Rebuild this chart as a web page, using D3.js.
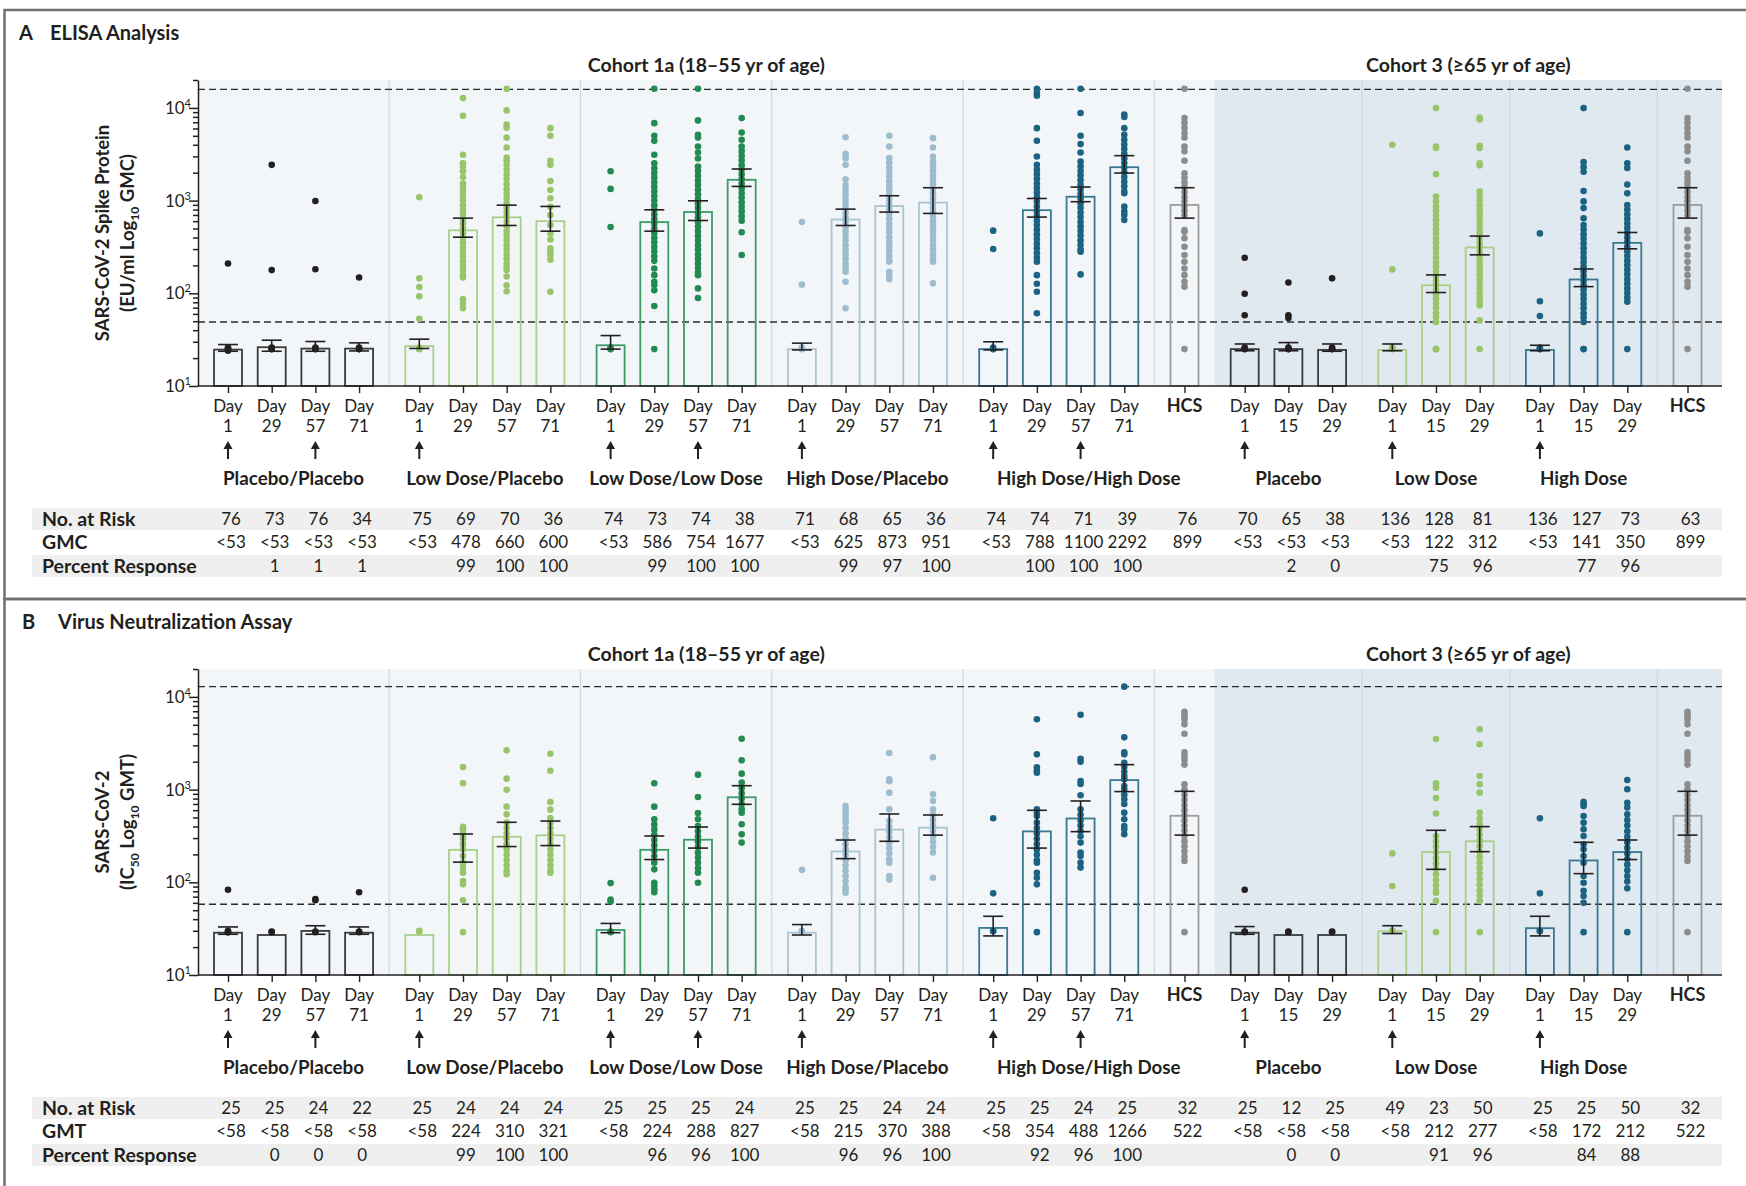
<!DOCTYPE html>
<html>
<head>
<meta charset="utf-8">
<script src="https://cdn.jsdelivr.net/npm/d3@7"></script>
<style>
  body { margin: 0; background: #fff; }
  svg { display: block; }
  text { font-family: Lato, "Open Sans", sans-serif; fill: #231f20; }
</style>
</head>
<body>
<svg id="fig" width="1746" height="1186"></svg>
<script>
// ---- categories ----
var slotDays = ["1","29","57","71","1","29","57","71","1","29","57","71","1","29","57","71","1","29","57","71","HCS",
                "1","15","29","1","15","29","1","15","29","HCS"];
var groupSizes = [4, 4, 4, 4, 4, 1, 3, 3, 3, 1];
var groupNames = ["Placebo/Placebo", "Low Dose/Placebo", "Low Dose/Low Dose", "High Dose/Placebo", "High Dose/High Dose", "",
                  "Placebo", "Low Dose", "High Dose", ""];
// last group each label is centred over (High Dose/High Dose sits over its bars and the HCS bar)
var groupLabelSpan = [0, 1, 2, 3, 5, 5, 6, 7, 8, 9];
var groupDot = ["#231f20", "#98c56a", "#238a52", "#9dbdcf", "#1c6383", "#8c8c8c", "#231f20", "#98c56a", "#1c6383", "#8c8c8c"];
var groupBar = ["#3a3a3a", "#a8d088", "#3c9a67", "#a9c5d4", "#3a7892", "#9c9c9c", "#3a3a3a", "#a8d088", "#3a7892", "#9c9c9c"];
var arrowSlots = [0, 2, 4, 8, 10, 12, 16, 18, 21, 24, 27];
var cohortNames = ["Cohort 1a (18\u201355 yr of age)", "Cohort 3 (\u226565 yr of age)"];

// ---- panel A: ELISA ----
var elisaGM = [24.7,26.2,25.3,25.3, 26.9,478,660,600, 27.5,586,754,1677, 25,625,873,951, 25,788,1100,2292, 899,
               25,25,24.5, 24.5,122,312, 24.5,141,350, 899];
var elisaCI = [[23.7,28],[23.7,31.2],[23.7,30.2],[23.9,29.2],[25.4,32],[403,647],[539,893],[468,865],[25,35],[468,796],
               [610,995],[1422,2192],[24.5,29],[539,809],[752,1128],[727,1377],[24.5,30],[664,1054],[973,1400],[1982,3054],
               [647,1377],[24,28.4],[24,29.4],[23.7,28.4],[24,28.4],[102,158],[260,414],[24,27.5],[118,183],[302,453],[647,1377]];
var elisaHCS = [16100,7760,6900,6100,5400,4800,3840,3400,2690,1970,1750,1560,1390,1240,1100,985,875,780,700,482,460,392,318,259,219,185,157,133,118,25];
var elisaDots = [
  [210,25,25,26,24],
  [2430,178,25,25,26],
  [990,182,25,25,26],
  [148,25,25,26],
  [1087,145,117,93,53,25,25,26],
  [12760,8220,3118,2530,2330,2070,1800,1530,1413,1260,1120,1000,890,795,708,631,562,501,447,398,355,316,282,251,224,200,178,158,148,86,78,69],
  [16100,9400,6600,6100,4780,3740,2920,2700,2430,2150,1900,1700,1500,1340,1190,1060,945,840,750,668,595,530,473,421,375,334,298,265,236,210,188,178,152,122,105],
  [6050,5000,2690,2430,1630,1300,1060,860,700,546,443,380,305,280,259,230,104],
  [2075,1337,519,25,25,26],
  [16100,6850,5000,4420,3118,2530,2235,2000,1780,1590,1420,1260,1120,1000,890,795,708,631,562,501,447,398,355,316,282,251,224,185,157,133,123,108,73,25],
  [16100,7330,5130,4780,3840,3300,2850,2330,2080,1850,1650,1470,1310,1170,1040,930,830,740,660,590,525,470,418,373,332,296,264,235,210,187,167,157,113,89],
  [7760,5430,4530,3840,3420,3050,2720,2420,2160,1920,1710,1530,1360,1210,1080,960,860,765,680,606,455,259],
  [588,124,25,25,26],
  [4830,3190,2870,2430,1700,1476,1310,1170,1040,930,830,740,660,590,525,470,418,373,332,296,264,235,210,187,171,133,69],
  [5000,3840,2870,2560,2280,2030,1810,1610,1440,1280,1140,1020,905,808,720,640,570,510,455,405,360,320,285,255,227,219,171,156,142],
  [4720,3740,2990,2660,2370,2110,1880,1680,1500,1330,1190,1060,945,840,750,668,595,530,473,421,375,334,298,265,236,219,128],
  [474,300,25,25,26],
  [16100,14500,13500,6050,4420,2990,2430,2170,1930,1720,1530,1370,1220,1090,970,865,770,685,610,545,485,432,385,343,306,272,243,219,157,127,104,61],
  [16100,8800,5000,4070,3300,2640,2350,2090,1870,1660,1480,1320,1180,1050,935,835,745,665,590,527,470,420,374,333,297,281,160],
  [8500,8000,6050,5130,4530,4030,3600,3200,2850,2540,2270,2020,1800,1600,1430,1270,1200,861,760,700,618],
  elisaHCS,
  [242,99,58,25,25,26],
  [131,58,54,25,25,26],
  [145,25,25,26],
  [4000,181,25,25,26],
  [9950,3840,3700,1928,1105,975,870,775,690,615,548,488,435,388,346,308,275,245,218,194,173,154,137,122,109,97,87,77,69,61,55,49,25,25,25],
  [7890,7500,3900,3700,2530,2400,1250,1115,995,885,790,705,628,560,500,445,397,354,315,281,250,223,199,177,158,141,126,112,100,89,79,74,51,25],
  [443,82,57,25,25,26],
  [9950,2600,2300,2050,1270,980,830,645,546,487,434,387,345,307,274,244,218,194,173,154,137,122,109,97,87,77,69,61,55,49,25,25],
  [3740,2530,2250,1490,1200,898,800,713,635,566,505,450,401,357,318,284,253,225,201,179,160,142,127,113,101,90,81,25],
  elisaHCS
];
var elisaRisk = ["76","73","76","34","75","69","70","36","74","73","74","38","71","68","65","36","74","74","71","39","76",
                 "70","65","38","136","128","81","136","127","73","63"];
var elisaGMText = ["<53","<53","<53","<53","<53","478","660","600","<53","586","754","1677","<53","625","873","951","<53","788","1100","2292","899",
                   "<53","<53","<53","<53","122","312","<53","141","350","899"];
var elisaPct = ["","1","1","1","","99","100","100","","99","100","100","","99","97","100","","100","100","100","",
                "","2","0","","75","96","","77","96",""];

// ---- panel B: neutralization ----
var neutGM = [28.6,27,29.9,28.6, 27,224,310,321, 30.6,224,288,827, 28.6,215,370,388, 32.2,354,488,1266, 522,
              28.6,27,27, 29.6,212,277, 32,172,212, 522];
var neutCI = [[27.5,33],null,[27.5,34],[27.5,33],null,[165,332],[243,444],[249,458],[28.6,36],[176,316],[234,395],[694,1102],
              [27,35],[180,286],[277,546],[323,532],[26.4,43],[234,598],[352,754],[952,1859],[323,958],
              [27.5,33.3],null,null,[28,34],[138,364],[214,399],[26.4,43],[124,270],[176,286],[323,958]];
var neutHCS = [6900,6500,6170,5700,5060,4010,2530,2300,2100,1860,1140,1000,880,775,680,600,527,464,408,359,316,278,245,215,190,170,29];
var neutDots = [
  [83,29,29,30],
  [29,29.5],
  [64,66,29,29.5],
  [78,29,29.5],
  [29.5,30],
  [1754,1170,398,373,344,316,291,257,227,192,163,144,127,103,95,64,29],
  [2650,1312,998,655,541,440,385,337,295,258,226,198,173,152,133,122],
  [2440,1600,735,608,494,440,385,337,295,258,226,198,173,152,133,127],
  [98,65,62,29,29.5],
  [1170,655,479,420,370,325,285,250,220,192,163,138,99,92,84,78],
  [1449,832,560,479,405,355,312,273,240,210,185,162,142,127,99],
  [3540,2070,1486,1190,1040,910,800,700,615,564,423,330,268],
  [136,29.6,30],
  [665,600,540,480,440,385,337,295,258,226,198,173,152,133,116,102,89,84,77],
  [2480,1290,1230,927,612,459,400,350,305,266,232,203,177,163,117,107],
  [2230,889,754,612,535,468,410,358,313,274,240,209,112],
  [490,76,29.6,30],
  [5730,2400,1740,1600,1520,612,560,519,440,385,337,295,258,226,198,173,163,127,112,95,29],
  [6430,2150,2000,1240,1150,868,612,535,468,410,358,313,268,209,192,163,144],
  [12900,3660,2530,2400,1950,1750,1560,1400,1290,1094,1000,880,785,700,564,479,405,373,330],
  neutHCS,
  [83,29,29.5],
  [29,29.5],
  [29,29.5],
  [205,91,29.6,30],
  [3520,1170,1050,813,551,316,275,240,210,183,160,140,122,106,93,81,77,63,29],
  [4470,3080,1402,1140,927,564,490,428,373,325,283,247,215,188,164,143,124,108,94,82,72,63,29],
  [490,76,29.6,30],
  [740,700,665,519,440,373,316,257,227,192,163,117,99,81,71,60,29],
  [1270,1007,722,640,541,470,410,356,310,270,235,205,178,155,135,117,102,86,29],
  neutHCS
];
var neutRisk = ["25","25","24","22","25","24","24","24","25","25","25","24","25","25","24","24","25","25","24","25","32",
                "25","12","25","49","23","50","25","25","50","32"];
var neutGMText = ["<58","<58","<58","<58","<58","224","310","321","<58","224","288","827","<58","215","370","388","<58","354","488","1266","522",
                  "<58","<58","<58","<58","212","277","<58","172","212","522"];
var neutPct = ["","0","0","0","","99","100","100","","96","96","100","","96","96","100","","92","96","100","",
               "","0","0","","91","96","","84","88",""];

// ---- layout ----
var plotLeft = 198, plotRight = 1722, plotTop = 80, plotBottom = 386;
var GAP = 0.378;
var slotGroup = [];
groupSizes.forEach(function (n, g) { for (var k = 0; k < n; k++) slotGroup.push(g); });
var slotU = slotGroup.map(function (g, i) { return i + g * GAP; });
var x = d3.scaleLinear().domain([0, d3.max(slotU)]).range([228, 1687.5]);
var firstSlot = [], lastSlot = [];
slotGroup.forEach(function (g, i) { if (firstSlot[g] === undefined) firstSlot[g] = i; lastSlot[g] = i; });
var boundary = function (g) { return (x(slotU[lastSlot[g]]) + x(slotU[firstSlot[g + 1]])) / 2; };
var c3Start = boundary(5);

var svg = d3.select("#fig");

function drawPanel(p) {
    var g = svg.append("g").attr("transform", "translate(0," + p.dy + ")");
    var y = d3.scaleLog().domain([10, 20000]).range([plotBottom, plotTop]);

    g.append("rect").attr("x", 4.5).attr("y", 10).attr("width", 1800).attr("height", p.frameH)
        .attr("fill", "none").attr("stroke", "#707070").attr("stroke-width", 2.5);
    g.append("text").attr("x", p.letterX).attr("y", 33).attr("dy", "0.35em")
        .attr("font-size", 20).attr("font-weight", 700).text(p.letter);
    g.append("text").attr("x", p.titleX).attr("y", 33).attr("dy", "0.35em")
        .attr("font-size", 20).attr("font-weight", 700).text(p.title);

    // cohort headers
    [[plotLeft, c3Start], [c3Start, plotRight]].forEach(function (r, k) {
        g.append("text").attr("x", (r[0] + r[1]) / 2).attr("y", 65).attr("dy", "0.35em")
            .attr("text-anchor", "middle").attr("font-size", 19.5).attr("font-weight", 700).text(cohortNames[k]);
    });

    // backgrounds
    g.append("rect").attr("x", plotLeft).attr("y", plotTop).attr("width", c3Start - plotLeft)
        .attr("height", plotBottom - plotTop).attr("fill", "#f2f6f9");
    g.append("rect").attr("x", c3Start).attr("y", plotTop).attr("width", plotRight - c3Start)
        .attr("height", plotBottom - plotTop).attr("fill", "#e0e9f0");
    [0, 1, 2, 3, 4, 6, 7, 8].forEach(function (b) {
        var bx = boundary(b);
        g.append("line").attr("x1", bx).attr("x2", bx).attr("y1", plotTop).attr("y2", plotBottom)
            .attr("stroke", "#cfd8e0").attr("stroke-width", 1.2);
    });

    // limit lines
    [p.lloq, p.uloq].forEach(function (v) {
        g.append("line").attr("x1", plotLeft).attr("x2", plotRight).attr("y1", y(v)).attr("y2", y(v))
            .attr("stroke", "#2b2b2b").attr("stroke-width", 1.4).attr("stroke-dasharray", "7,4");
    });

    // bars
    g.selectAll("rect.bar").data(p.gm).enter().append("rect").attr("class", "bar")
        .attr("x", function (d, i) { return x(slotU[i]) - 14; })
        .attr("y", function (d) { return y(d); })
        .attr("width", 28)
        .attr("height", function (d) { return plotBottom - y(d); })
        .attr("fill", "none")
        .attr("stroke", function (d, i) { return groupBar[slotGroup[i]]; })
        .attr("stroke-width", 1.8);

    // dots
    p.dots.forEach(function (vals, i) {
        g.selectAll(null).data(vals).enter().append("circle")
            .attr("cx", x(slotU[i])).attr("cy", function (d) { return y(d); })
            .attr("r", 3.3).attr("fill", groupDot[slotGroup[i]]);
    });

    // error bars
    p.ci.forEach(function (c, i) {
        if (!c) return;
        var cx = x(slotU[i]);
        var eb = g.append("g").attr("stroke", "#231f20").attr("stroke-width", 1.6);
        eb.append("line").attr("x1", cx).attr("x2", cx).attr("y1", y(c[0])).attr("y2", y(c[1]));
        eb.append("line").attr("x1", cx - 10).attr("x2", cx + 10).attr("y1", y(c[0])).attr("y2", y(c[0]));
        eb.append("line").attr("x1", cx - 10).attr("x2", cx + 10).attr("y1", y(c[1])).attr("y2", y(c[1]));
    });

    // y axis
    var minor = [];
    [10, 100, 1000, 10000].forEach(function (d) {
        for (var m = 2; m <= 9; m++) if (d * m <= 20000) minor.push(d * m);
    });
    var yMinor = g.append("g").attr("transform", "translate(" + plotLeft + ",0)")
        .call(d3.axisLeft(y).tickValues(minor).tickSize(5).tickSizeOuter(0).tickFormat(""));
    yMinor.select(".domain").remove();
    g.append("g").attr("transform", "translate(" + plotLeft + ",0)")
        .call(d3.axisLeft(y).tickValues([10, 100, 1000, 10000]).tickSize(9).tickSizeOuter(0).tickFormat(""));
    g.selectAll(".tick line, .domain").attr("stroke", "#231f20").attr("stroke-width", 1.5);
    [10, 100, 1000, 10000].forEach(function (v, k) {
        var t = g.append("text").attr("x", plotLeft - 7).attr("y", y(v)).attr("dy", "0.35em")
            .attr("text-anchor", "end").attr("font-size", 17).text("10");
        t.append("tspan").attr("font-size", 11).attr("dy", -7).text(String(k + 1));
    });

    // y title
    var yt = g.append("g").attr("transform", "translate(103," + ((plotTop + plotBottom) / 2) + ") rotate(-90)");
    yt.append("text").attr("text-anchor", "middle").attr("dy", "0.35em")
        .attr("font-size", 18.5).attr("font-weight", 700).text(p.yTitle1);
    var t2 = yt.append("text").attr("text-anchor", "middle").attr("y", 25).attr("dy", "0.35em")
        .attr("font-size", 18.5).attr("font-weight", 700);
    p.yTitle2.forEach(function (piece) {
        var ts = t2.append("tspan").text(piece[0]);
        if (piece[1]) ts.attr("font-size", 12).attr("dy", 5);
        else if (piece[2]) ts.attr("dy", -5);
    });

    // x axis
    g.append("line").attr("x1", plotLeft).attr("x2", plotRight).attr("y1", plotBottom).attr("y2", plotBottom)
        .attr("stroke", "#231f20").attr("stroke-width", 1.6);
    var xa = g.append("g").attr("transform", "translate(0," + plotBottom + ")")
        .call(d3.axisBottom(x).tickValues(slotU).tickSize(7).tickSizeOuter(0).tickFormat(""));
    xa.select(".domain").remove();
    xa.selectAll(".tick line").attr("stroke", "#231f20").attr("stroke-width", 1.4);

    slotDays.forEach(function (d, i) {
        var cx = x(slotU[i]);
        if (d === "HCS") {
            g.append("text").attr("x", cx).attr("y", 406).attr("dy", "0.35em").attr("text-anchor", "middle")
                .attr("font-size", 18).attr("font-weight", 700).text("HCS");
        } else {
            g.append("text").attr("x", cx).attr("y", 406).attr("dy", "0.35em").attr("text-anchor", "middle")
                .attr("font-size", 17).text("Day");
            g.append("text").attr("x", cx).attr("y", 426).attr("dy", "0.35em").attr("text-anchor", "middle")
                .attr("font-size", 17).text(d);
        }
    });

    // arrows
    arrowSlots.forEach(function (i) {
        var cx = x(slotU[i]);
        g.append("line").attr("x1", cx).attr("x2", cx).attr("y1", 459).attr("y2", 447)
            .attr("stroke", "#231f20").attr("stroke-width", 2);
        g.append("path").attr("d", "M" + (cx - 4.5) + ",449L" + (cx + 4.5) + ",449L" + cx + ",441Z").attr("fill", "#231f20");
    });

    // group labels
    groupNames.forEach(function (name, k) {
        if (!name) return;
        var cx = (x(slotU[firstSlot[k]]) + x(slotU[lastSlot[groupLabelSpan[k]]])) / 2;
        g.append("text").attr("x", cx).attr("y", 478).attr("dy", "0.35em").attr("text-anchor", "middle")
            .attr("font-size", 18.8).attr("font-weight", 700).text(name);
    });

    // table
    var rows = [["No. at Risk", p.risk, 519], [p.gmLabel, p.gmText, 542], ["Percent Response", p.pct, 566]];
    g.append("rect").attr("x", 32).attr("y", 508).attr("width", plotRight - 32).attr("height", 22).attr("fill", "#efefef");
    g.append("rect").attr("x", 32).attr("y", 555).attr("width", plotRight - 32).attr("height", 22).attr("fill", "#efefef");
    rows.forEach(function (r) {
        g.append("text").attr("x", 42).attr("y", r[2]).attr("dy", "0.35em")
            .attr("font-size", 19.5).attr("font-weight", 700).text(r[0]);
        r[1].forEach(function (v, i) {
            g.append("text").attr("x", x(slotU[i]) + 3).attr("y", r[2]).attr("dy", "0.35em")
                .attr("text-anchor", "middle").attr("font-size", 17).text(v);
        });
    });
}

drawPanel({
    dy: 0, frameH: 589, letter: "A", letterX: 19, title: "ELISA Analysis", titleX: 50,
    gm: elisaGM, ci: elisaCI, dots: elisaDots, lloq: 49, uloq: 15850,
    yTitle1: "SARS-CoV-2 Spike Protein",
    yTitle2: [["(EU/ml Log"], ["10", true], [" GMC)", false, true]],
    risk: elisaRisk, gmLabel: "GMC", gmText: elisaGMText, pct: elisaPct
});
drawPanel({
    dy: 589, frameH: 700, letter: "B", letterX: 22, title: "Virus Neutralization Assay", titleX: 58,
    gm: neutGM, ci: neutCI, dots: neutDots, lloq: 58, uloq: 12900,
    yTitle1: "SARS-CoV-2",
    yTitle2: [["(IC"], ["50", true], [" Log", false, true], ["10", true], [" GMT)", false, true]],
    risk: neutRisk, gmLabel: "GMT", gmText: neutGMText, pct: neutPct
});
</script>
</body>
</html>
